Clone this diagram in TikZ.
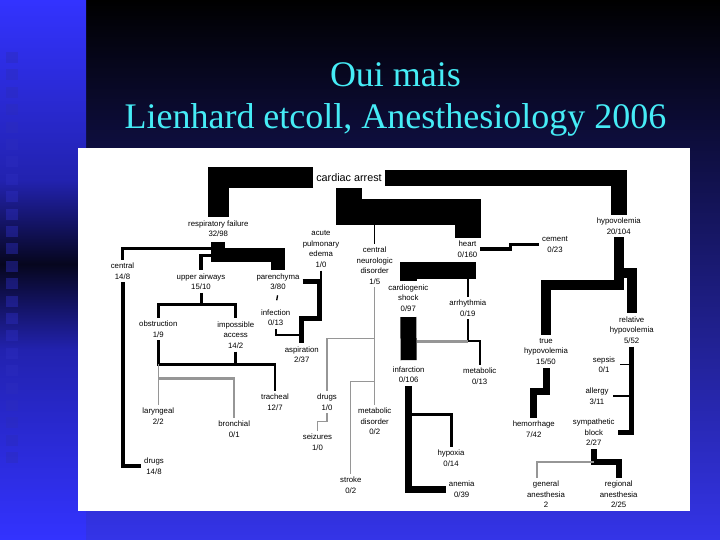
\documentclass[tikz,border=0pt]{standalone}
\usepackage{fontspec}
\setmainfont{Liberation Serif}
\newfontfamily\lblfont{Liberation Sans}
\usetikzlibrary{calc}
\definecolor{stripblue}{RGB}{51, 51, 255}
\definecolor{stripmid}{RGB}{34, 34, 175}
\definecolor{stripdark}{RGB}{6, 6, 30}
\definecolor{slideblue}{RGB}{52, 52, 232}
\definecolor{titlecyan}{RGB}{70, 236, 246}
\definecolor{squareblue}{RGB}{44, 44, 190}
\definecolor{lightline}{RGB}{150, 150, 150}
\newcommand{\lblsize}{\lblfont\fontsize{7.8}{10.5}\selectfont}

\begin{document}
\begin{tikzpicture}[
  x=1pt, y=-1pt,
  lbl/.style={font=\lblsize, align=center, inner sep=3pt},
  trunk/.style={line width=#1, draw=black},
  trunk/.default=10pt,
  twig/.style={line width=#1, draw=black},
  twig/.default=1.2pt,
  greytwig/.style={line width=#1, draw=lightline},
  greytwig/.default=1.2pt,
  titre/.style={font=\fontsize{36}{42}\selectfont, text=titlecyan, align=center, inner sep=0pt},
  sq/.style={fill=squareblue, fill opacity=0.45}
]
\useasboundingbox (0,0) rectangle (720,540);
% Fond de la diapositive
\shade[top color=black, bottom color=slideblue] (86,0) rectangle (720,540);
\shade[top color=stripblue, bottom color=stripmid] (0,0) rectangle (86,180);
\shade[top color=stripmid, bottom color=stripdark] (0,180) rectangle (86,264);
\shade[top color=stripdark, bottom color=stripmid] (0,264) rectangle (86,350);
\shade[top color=stripmid, bottom color=stripblue] (0,350) rectangle (86,540);
\foreach \k in {0,...,23}
  \fill[sq] (6,{52+17.4*\k}) rectangle ++(12,11);
\fill[white] (78,148) rectangle (690,511);
\node[titre] (titre) at (395.5,99) {Oui mais\\Lienhard etcoll, Anesthesiology 2006};
% Niveau 1
\node[lbl, font=\lblfont\fontsize{10.8}{12}\selectfont] (card) at (349,178) {cardiac arrest};
\node[lbl] (resp) at (218.3,228.5) {respiratory failure\\32/98};
\node[lbl] (hypo) at (618.7,226) {hypovolemia\\20/104};
\node[lbl] (heart) at (467.5,249) {heart\\0/160};
\node[lbl] (cement) at (555,244.5) {cement\\0/23};
\node[lbl] (ape) at (321,249) {acute\\pulmonary\\edema\\1/0};
\node[lbl] (cnd) at (374.7,265.5) {central\\neurologic\\disorder\\1/5};
% Niveau 2, voies respiratoires
\node[lbl] (central) at (122.5,271) {central\\14/8};
\node[lbl] (upper) at (201,281.5) {upper airways\\15/10};
\node[lbl] (paren) at (278,281.5) {parenchyma\\3/80};
\node[lbl] (infect) at (275.7,317.5) {infection\\0/13};
\node[lbl] (aspir) at (301.8,354.5) {aspiration\\2/37};
\node[lbl] (obstr) at (158.3,329) {obstruction\\1/9};
\node[lbl] (impos) at (235.7,335) {impossible\\access\\14/2};
\node[lbl] (trach) at (275,402) {tracheal\\12/7};
\node[lbl] (laryn) at (158.3,416) {laryngeal\\2/2};
\node[lbl] (bronch) at (234.2,429) {bronchial\\0/1};
\node[lbl] (drugsR) at (154,466) {drugs\\14/8};
% Niveau 2, neurologique
\node[lbl] (drugsC) at (327,402) {drugs\\1/0};
\node[lbl] (seiz) at (317.5,442) {seizures\\1/0};
\node[lbl] (metdis) at (374.7,421.5) {metabolic\\disorder\\0/2};
\node[lbl] (stroke) at (350.8,485) {stroke\\0/2};
% Niveau 2, coeur
\node[lbl] (cshock) at (408.3,298) {cardiogenic\\shock\\0/97};
\node[lbl] (arrh) at (467.8,308) {arrhythmia\\0/19};
\node[lbl] (infarc) at (408.7,374.5) {infarction\\0/106};
\node[lbl] (metab) at (479.7,376) {metabolic\\0/13};
\node[lbl] (hypox) at (451,458) {hypoxia\\0/14};
\node[lbl] (anemia) at (461.7,489) {anemia\\0/39};
% Niveau 2, hypovolemie
\node[lbl] (truehv) at (546,351.5) {true\\hypovolemia\\15/50};
\node[lbl] (relhv) at (631.7,330) {relative\\hypovolemia\\5/52};
\node[lbl] (hemor) at (533.8,429) {hemorrhage\\7/42};
\node[lbl] (sepsis) at (604,364.5) {sepsis\\0/1};
\node[lbl] (allergy) at (597,396) {allergy\\3/11};
\node[lbl] (symp) at (593.8,432.5) {sympathetic\\block\\2/27};
\node[lbl] (genan) at (546,494.5) {general\\anesthesia\\2};
\node[lbl] (regan) at (618.7,494.5) {regional\\anesthesia\\2/25};
% Branche respiratoire
\draw[trunk=21pt] (card.west) -| (resp.north);
\draw[twig=3pt] ([yshift=-9pt]resp.south) -| (central.north);
\draw[twig=3.5pt] ([yshift=-15.5pt]resp.south) -| (upper.north);
\draw[trunk=14pt, shorten <=2pt] (resp.south) -- ++(0,15.5) -| (paren.north);
\draw[twig=4pt] (central.south) |- (drugsR.west);
\draw[twig=3pt] (upper.south) -- ++(0,12) coordinate (uj) -| (obstr.north);
\draw[twig=3pt] (uj) -| (impos.north);
\draw[twig=2.5pt] (obstr.south) -- ++(0,24) coordinate (oj) -| (trach.north);
\draw[twig=2.5pt] (impos.south) -- (impos.south |- oj);
\draw[greytwig] (oj) -- (laryn.north);
\draw[greytwig=2.5pt] ([yshift=-14pt]oj) -| (bronch.north);
\draw[trunk=5pt] (paren.east) -- ++(17,0) coordinate (pj) -- ++(0,36.5) -| (aspir.north);
\draw[twig=1.3pt] (ape.south) -- (ape.south |- pj);
\draw[twig=1.3pt, shorten <=2.5pt, shorten >=6pt] (paren.south) -- (infect.north);
\draw[twig=2pt] (infect.south) |- ($(aspir.north)+(0,-8)$);
% Branche cardiaque
\draw[trunk=26pt, shorten <=3pt] (card.south) -- ++(0,27) coordinate (hk) -| (heart.north);
\draw[twig=3.5pt] (heart.east) -- ++(30,0) |- (cement.west);
\draw[twig=1pt] (cnd.north) -- (cnd.north |- hk);
\draw[trunk=17pt] ([shift={(8.5pt,-10.5pt)}]heart.south) -| (cshock.north);
\draw[twig=1.5pt, shorten <=3pt] (heart.south -| arrh.north) -- (arrh.north);
\draw[trunk=16pt, shorten <=2.5pt, shorten >=3pt] (cshock.south) -- (infarc.north);
\draw[twig=2pt] (arrh.south) -- ++(0,22) coordinate (aj) -| (metab.north);
\draw[greytwig=2.5pt] (aj) -- ([xshift=8pt]aj -| infarc.north);
\draw[trunk=7pt] (infarc.south) |- (anemia.west);
\draw[twig=3pt] ([yshift=-29pt]infarc.south) -| (hypox.north);
% Branche neurologique
\draw[greytwig] (cnd.south) -- (cnd.south |- metdis.north);
\draw[greytwig] ([yshift=-51pt]cnd.south) -| (drugsC.north);
\draw[greytwig] ([yshift=-94pt]cnd.south) -| (stroke.north);
\draw[greytwig] (drugsC.south) -- ++(0,8) -| (seiz.north);
% Branche hypovolemie
\draw[trunk=16pt] (card.east) -| (hypo.north);
\draw[trunk=10pt] (hypo.south) -- ++(0,48) -| (truehv.north);
\draw[trunk=10pt] ([yshift=-36pt]hypo.south) -| (relhv.north);
\draw[trunk=7pt] (truehv.south) -- ++(0,24) -| (hemor.north);
\draw[trunk=5pt] (relhv.south) |- (symp.east);
\draw[twig=1.5pt, shorten <=2pt] (sepsis.east) -- (sepsis.east -| relhv.south);
\draw[twig=2.5pt, shorten <=1.5pt] (allergy.east) -- (allergy.east -| relhv.south);
\draw[trunk=6pt] (symp.south) -- ++(0,13) coordinate (sj) -| (regan.north);
\draw[greytwig=1.5pt] (sj) -| ([xshift=-9pt]genan.north);
\end{tikzpicture}
\end{document}
